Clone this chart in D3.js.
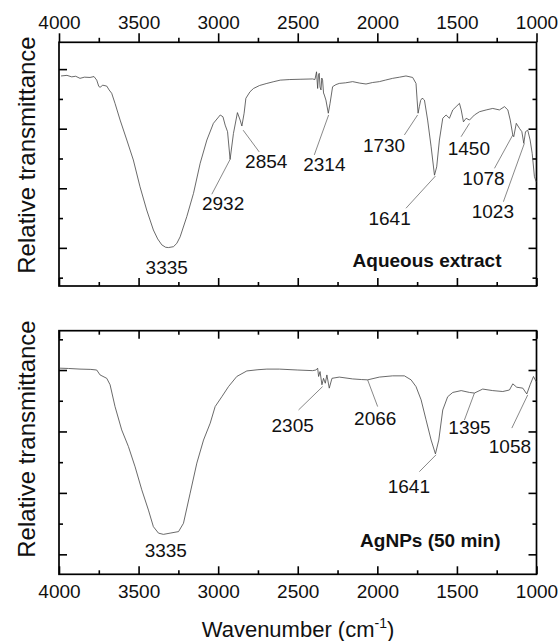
<!DOCTYPE html>
<html>
<head>
<meta charset="utf-8">
<script src="https://cdn.jsdelivr.net/npm/d3@7"></script>
<style>
  body { margin: 0; background: #fff; }
  svg { display: block; font-family: "Liberation Sans", Arial, sans-serif; }
</style>
</head>
<body>
<div class="chart-container"></div>
<script>
// Tick values (wavenumber, cm-1)
const xMajor = [4000, 3500, 3000, 2500, 2000, 1500, 1000];
const xMinor = [3750, 3250, 2750, 2250, 1750, 1250];
const yTicks = [0, 10, 20, 30, 40, 50, 60, 70];

// Aqueous extract spectrum
const topWn = [3987, 3950, 3920, 3895, 3868, 3840, 3805, 3780, 3763, 3750, 3742, 3725, 3700, 3685, 3669, 3648, 3616, 3574, 3533, 3491, 3449, 3407, 3380, 3354, 3330, 3312, 3281, 3260, 3239, 3197, 3155, 3113, 3071, 3030, 2987, 2970, 2956, 2941, 2925, 2904, 2879, 2862, 2851, 2837, 2826, 2800, 2778, 2740, 2694, 2650, 2610, 2550, 2480, 2407, 2392, 2382, 2375, 2370, 2365, 2360, 2354, 2349, 2344, 2338, 2333, 2323, 2308, 2297, 2281, 2260, 2239, 2200, 2155, 2110, 2071, 2030, 1987, 1950, 1904, 1860, 1820, 1778, 1757, 1750, 1744, 1736, 1728, 1719, 1712, 1704, 1684, 1662, 1641, 1627, 1610, 1589, 1568, 1547, 1526, 1505, 1484, 1473, 1459, 1442, 1421, 1390, 1358, 1316, 1275, 1233, 1201, 1180, 1165, 1149, 1143, 1127, 1107, 1092, 1080, 1069, 1055, 1040, 1027, 1013, 1002];
const topT = [67.7, 67.9, 67.4, 67.6, 66.9, 67.3, 67.2, 67.5, 66.3, 64.2, 63.9, 64.6, 64.3, 63.0, 61.9, 58.5, 52.9, 46.2, 39.5, 30.5, 22.7, 16.0, 13.0, 11.0, 10.2, 10.1, 10.4, 11.5, 13.7, 20.5, 28.3, 38.4, 46.2, 51.8, 54.6, 54.0, 51.2, 49.0, 39.7, 48.4, 55.4, 52.9, 50.9, 55.2, 60.2, 62.4, 63.5, 64.5, 65.2, 65.8, 66.3, 66.5, 66.6, 66.7, 66.5, 69.1, 63.5, 68.0, 68.6, 64.0, 63.0, 67.0, 66.3, 62.0, 61.3, 59.6, 55.2, 58.5, 64.1, 64.8, 65.2, 65.4, 65.8, 65.3, 65.0, 65.5, 65.8, 66.3, 66.9, 67.3, 67.7, 67.2, 65.2, 59.6, 55.2, 57.4, 59.5, 60.2, 60.0, 59.6, 52.9, 43.9, 34.4, 37.2, 46.2, 53.5, 54.6, 53.5, 56.3, 57.4, 58.5, 56.3, 52.3, 53.5, 52.9, 54.6, 55.7, 56.3, 56.8, 56.3, 57.4, 56.3, 52.9, 47.9, 47.3, 51.8, 50.1, 49.0, 45.1, 49.0, 49.5, 46.2, 41.7, 33.9, 32.2];

// AgNPs (50 min) spectrum
const botWn = [3994, 3940, 3868, 3800, 3763, 3742, 3700, 3679, 3648, 3606, 3564, 3522, 3480, 3438, 3407, 3375, 3344, 3302, 3249, 3218, 3176, 3134, 3092, 3050, 3019, 2977, 2935, 2883, 2820, 2750, 2694, 2616, 2500, 2407, 2386, 2375, 2369, 2360, 2348, 2338, 2327, 2317, 2302, 2285, 2239, 2155, 2100, 2061, 1987, 1904, 1830, 1788, 1757, 1725, 1694, 1662, 1635, 1614, 1589, 1558, 1526, 1473, 1421, 1390, 1338, 1275, 1212, 1170, 1149, 1124, 1086, 1061, 1040, 1019, 1002];
const botT = [60.6, 60.5, 60.3, 60.2, 60.0, 58.4, 57.3, 55.2, 48.1, 40.5, 35.1, 28.5, 21.0, 14.4, 9.0, 6.9, 6.5, 6.9, 7.4, 10.1, 19.9, 29.7, 37.2, 42.7, 48.1, 51.3, 54.6, 57.9, 59.7, 60.1, 60.3, 60.3, 60.0, 59.8, 60.0, 60.6, 57.9, 59.5, 55.2, 57.3, 55.7, 58.4, 54.1, 57.3, 57.7, 57.1, 56.9, 56.8, 57.7, 58.1, 58.1, 56.8, 54.6, 50.3, 43.8, 37.2, 32.7, 37.2, 47.0, 51.3, 52.7, 53.3, 52.7, 52.5, 53.8, 53.3, 53.0, 53.5, 55.5, 54.4, 54.1, 52.2, 55.2, 57.9, 56.2];

// Peak labels: text, label anchor (wn, T), leader line from (wn, T) to (wn, T)
const topLabels = ['3335', '2932', '2854', '2314', '1730', '1641', '1450', '1078', '1023'];
const topLabelPos = [[3323, 1.2], [2969, 22.7], [2698, 36.8], [2333, 35.8], [1958, 42.3], [1923, 17.7], [1425, 41.2], [1333, 31.1], [1274, 19.9]];
const topLeaders = [null, [3040, 28.0, 2925, 39.7], [2843, 49.5, 2742, 42.2], [2396, 41.2, 2306, 54.6], [1830, 47.9, 1747, 54.6], [1820, 23.3, 1635, 34.1], [1474, 47.3, 1421, 51.8], [1264, 36.7, 1149, 47.9], [1208, 25.5, 1076, 45.1]];

const botLabels = ['3335', '2305', '2066', '1641', '1395', '1058'];
const botLabelPos = [[3329, -0.8], [2532, 39.9], [2013, 42.1], [1802, 19.9], [1421, 39.2], [1167, 33.1]];
const botLeaders = [null, [2495, 47.0, 2344, 54.6], [1998, 48.1, 2061, 56.8], [1736, 26.9, 1631, 32.4], [1453, 43.7, 1390, 52.5], [1155, 41.1, 1055, 51.9]];

const W = 559, H = 641;
const svg = d3.select('.chart-container')
    .append('svg')
    .attr('width', W)
    .attr('height', H);

const x = d3.scaleLinear().domain([4000, 1000]).range([59, 536.5]);
const fmt = d3.format('d');

function drawPanel(opts) {
    const y = d3.scaleLinear().domain(opts.yDomain).range([opts.bottom, opts.top]);
    const g = svg.append('g');

    // y ticks alternate long / short
    const yMaj = yTicks.filter((d, i) => i % 2 === opts.yMajorParity);
    const yMin = yTicks.filter((d, i) => i % 2 !== opts.yMajorParity);
    [[yMaj, 8], [yMin, 4]].forEach(([vals, len]) => {
        g.append('g').attr('transform', `translate(${x.range()[0]},0)`)
            .call(d3.axisRight(y).tickValues(vals).tickSize(len).tickFormat(''));
        g.append('g').attr('transform', `translate(${x.range()[1]},0)`)
            .call(d3.axisLeft(y).tickValues(vals).tickSize(len).tickFormat(''));
    });

    // x ticks
    const topAxis = g.append('g').attr('transform', `translate(0,${opts.top})`);
    const botAxis = g.append('g').attr('transform', `translate(0,${opts.bottom})`);
    if (opts.labelsOnTop) {
        topAxis.call(d3.axisTop(x).tickValues(xMajor).tickSize(9).tickPadding(4.5).tickFormat(fmt));
        topAxis.append('g').call(d3.axisTop(x).tickValues(xMinor).tickSize(4.5).tickFormat(''));
        botAxis.call(d3.axisBottom(x).tickValues(xMajor).tickSize(-8).tickFormat(''));
        botAxis.append('g').call(d3.axisBottom(x).tickValues(xMinor).tickSize(-4).tickFormat(''));
    } else {
        topAxis.call(d3.axisTop(x).tickValues(xMajor).tickSize(-8).tickFormat(''));
        topAxis.append('g').call(d3.axisTop(x).tickValues(xMinor).tickSize(-4).tickFormat(''));
        botAxis.call(d3.axisBottom(x).tickValues(xMajor).tickSize(-8).tickPadding(10).tickFormat(fmt));
        botAxis.append('g').call(d3.axisBottom(x).tickValues(xMinor).tickSize(-4).tickFormat(''));
    }
    g.selectAll('.domain').remove();
    g.selectAll('.tick line').attr('stroke', '#000').attr('stroke-width', 1.6);
    g.selectAll('.tick text').attr('font-size', 19).attr('fill', '#111')
        .attr('font-family', '"Liberation Sans", Arial, sans-serif');

    // frame
    g.append('rect')
        .attr('x', x.range()[0]).attr('y', opts.top)
        .attr('width', x.range()[1] - x.range()[0])
        .attr('height', opts.bottom - opts.top)
        .attr('fill', 'none').attr('stroke', '#000').attr('stroke-width', 1.7);

    // spectrum
    const pts = opts.wn.map((d, i) => [d, opts.t[i]]);
    g.append('path')
        .datum(pts)
        .attr('fill', 'none')
        .attr('stroke', '#444')
        .attr('stroke-width', 0.8)
        .attr('d', d3.line().x(d => x(d[0])).y(d => y(d[1])));

    // leader lines and peak labels
    opts.leaders.forEach(l => {
        if (!l) return;
        g.append('line')
            .attr('x1', x(l[0])).attr('y1', y(l[1]))
            .attr('x2', x(l[2])).attr('y2', y(l[3]))
            .attr('stroke', '#555').attr('stroke-width', 0.7);
    });
    g.selectAll('.peak')
        .data(opts.labels)
        .enter()
        .append('text')
        .attr('class', 'peak')
        .attr('x', (d, i) => x(opts.labelPos[i][0]))
        .attr('y', (d, i) => y(opts.labelPos[i][1]))
        .attr('text-anchor', 'middle')
        .attr('font-size', 19)
        .attr('fill', '#111')
        .text(d => d);

    // sample name
    g.append('text')
        .attr('x', x(opts.namePos[0]))
        .attr('y', y(opts.namePos[1]))
        .attr('text-anchor', 'end')
        .attr('font-size', 19)
        .attr('font-weight', 'bold')
        .attr('fill', '#111')
        .text(opts.name);

    // y title
    g.append('text')
        .attr('transform', `translate(35,${opts.titleY}) rotate(-90)`)
        .attr('text-anchor', 'middle')
        .attr('font-size', 24)
        .attr('fill', '#111')
        .text('Relative transmittance');
}

drawPanel({
    top: 42.3, bottom: 286, yDomain: [-2.8, 79], yMajorParity: 1,
    wn: topWn, t: topT, labels: topLabels, labelPos: topLabelPos, leaders: topLeaders,
    name: 'Aqueous extract', namePos: [1220, 3.7], labelsOnTop: true, titleY: 155
});

drawPanel({
    top: 330.7, bottom: 574.3, yDomain: [-6.5, 72.8], yMajorParity: 0,
    wn: botWn, t: botT, labels: botLabels, labelPos: botLabelPos, leaders: botLeaders,
    name: 'AgNPs (50 min)', namePos: [1226, 2.5], labelsOnTop: false, titleY: 439
});

// x title
const xt = svg.append('text')
    .attr('x', 298)
    .attr('y', 637)
    .attr('text-anchor', 'middle')
    .attr('font-size', 22)
    .attr('fill', '#111');
xt.append('tspan').text('Wavenumber (cm');
xt.append('tspan').attr('font-size', 14).attr('dy', -9).text('-1');
xt.append('tspan').attr('dy', 9).text(')');
</script>
</body>
</html>
